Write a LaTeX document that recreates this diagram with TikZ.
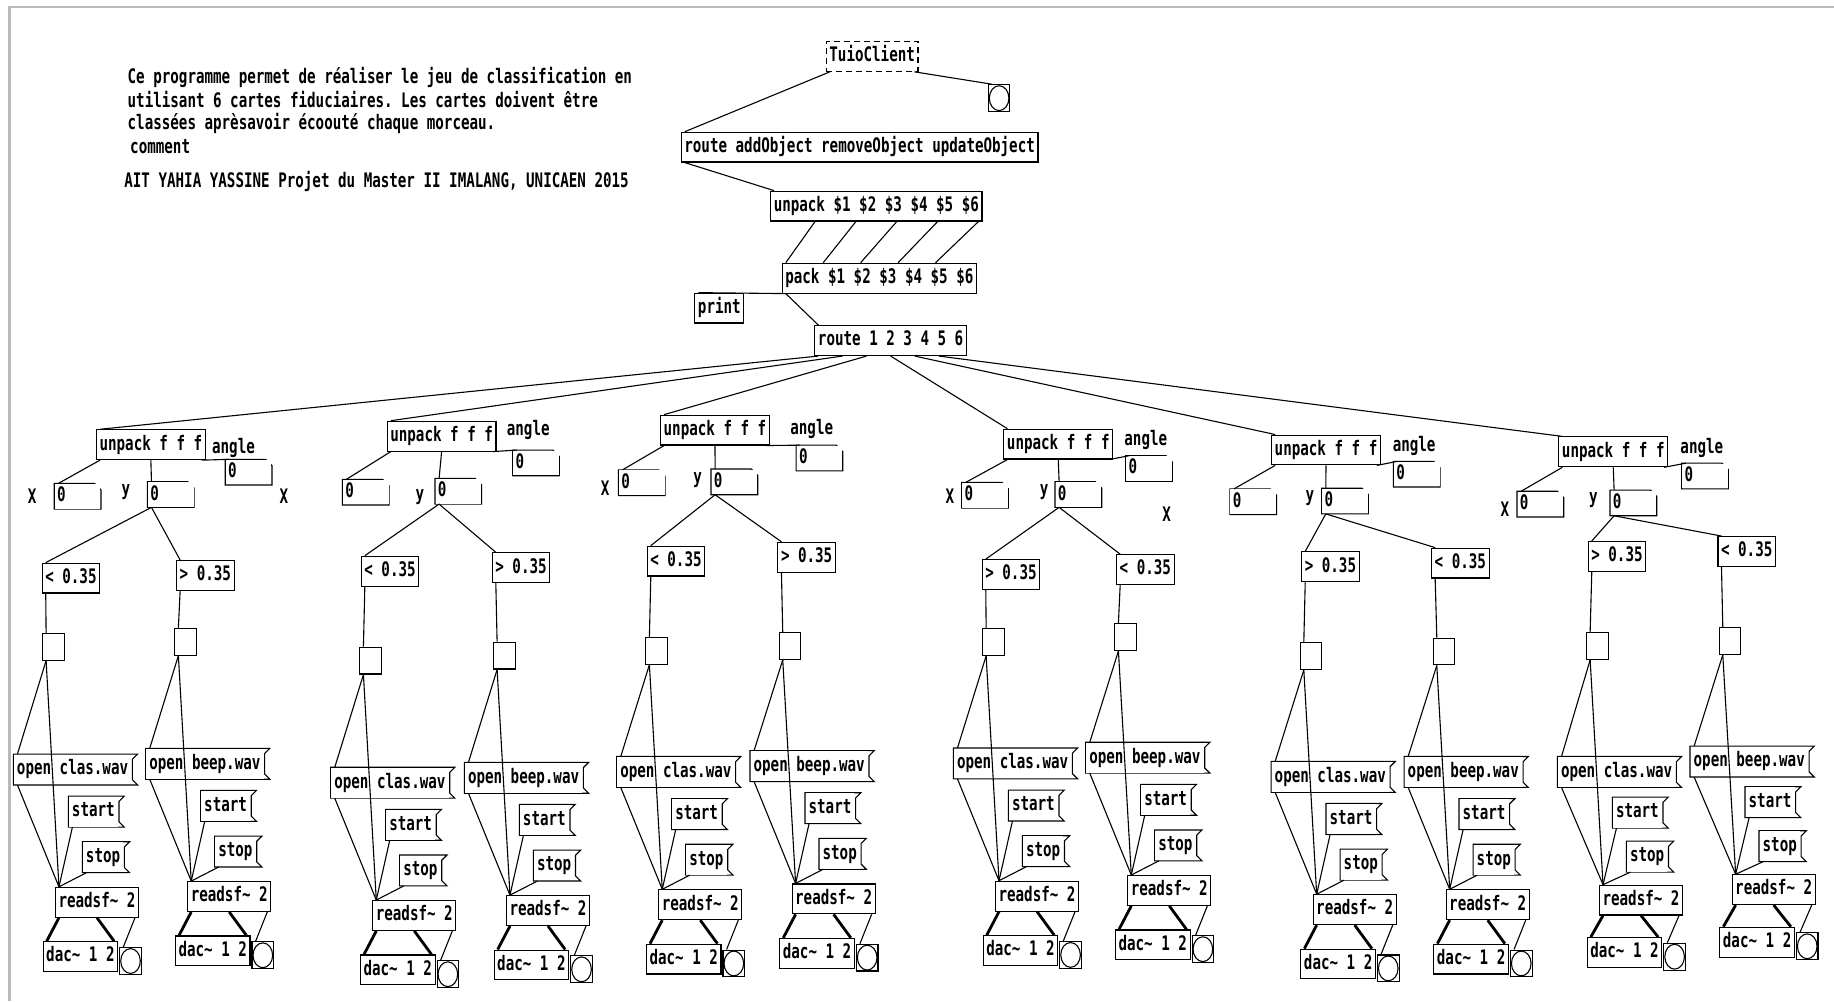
\documentclass[tikz,border=0pt]{standalone}
\usepackage{fontspec}
\newfontfamily\pdfont[FakeStretch=0.71]{DejaVu Sans Mono}
\usepackage{tikz}
\usetikzlibrary{calc}
\frenchspacing

% inlets / outlets as small dark bars along one edge
\newcommand\pdportrow[3]{%
  \ifnum#1>0
    \foreach \k in {1,...,#1}{%
      \ifnum#1=1 \def\pfrac{0}\else\pgfmathsetmacro\pfrac{(\k-1)/(#1-1)}\fi
      \fill ($([xshift=2.05pt]path picture bounding box.#2 west)!\pfrac!([xshift=-2.05pt]path picture bounding box.#2 east)$)
        ++(-3.5,0) rectangle ++(7,#3*3.5);
    }%
  \fi}

\tikzset{
  ports/.style 2 args={path picture={\pdportrow{#1}{north}{1}\pdportrow{#2}{south}{-1}}},
  pdbox/.style={font=\pdfont\bfseries, anchor=north west, inner xsep=1.55pt, inner ysep=2.6pt,
    text height=7.5pt, text depth=2.2pt, line width=0.55pt, fill=white},
  obj/.style 2 args={pdbox, draw, ports={#1}{#2}},
  msg/.style={pdbox, ports={1}{1}, append after command={\pgfextra{
    \draw[line width=0.55pt] (\tikzlastnode.north west) -- ([xshift=2.9pt]\tikzlastnode.north east)
      -- ([xshift=0.3pt,yshift=-2.6pt]\tikzlastnode.north east)
      -- ([xshift=0.3pt,yshift=2.6pt]\tikzlastnode.south east)
      -- ([xshift=2.9pt]\tikzlastnode.south east) -- (\tikzlastnode.south west) -- cycle;}}},
  numbox/.style={pdbox, inner xsep=1.2pt, inner ysep=1.5pt, text height=7.4pt, text depth=1.9pt,
    text width=20.4pt, align=left, ports={1}{1}, append after command={\pgfextra{
    \draw[line width=0.55pt] (\tikzlastnode.north west) -- ([xshift=-3.2pt]\tikzlastnode.north east)
      -- ([yshift=-3.2pt]\tikzlastnode.north east) -- (\tikzlastnode.south east)
      -- (\tikzlastnode.south west) -- cycle;}}},
  bangbox/.style={anchor=north west, draw, fill=white, line width=0.55pt, inner sep=0pt,
    minimum width=10.8pt, minimum height=13.4pt, ports={1}{1}},
  cbang/.style={bangbox, path picture={\pdportrow{1}{north}{1}\pdportrow{1}{south}{-1}
    \draw[line width=0.55pt] (path picture bounding box.center) ellipse (4.9pt and 6.2pt);}},
  lbl/.style={font=\pdfont\bfseries, inner sep=0pt},
  wire/.style={line width=0.55pt},
  sig/.style={line width=1.4pt}
}

\begin{document}
\begin{tikzpicture}[x=0.5848pt,y=-0.5848pt]
  \useasboundingbox (0,0) rectangle (1568,856);
  \draw[gray!55,line width=1.2pt] (8,856) -- (8,6) -- (1568,6);

  % comments
  \node[lbl,anchor=west] (txt1) at (108.8,66) {Ce programme permet de réaliser le jeu de classification en};
  \node[lbl,anchor=west] (txt2) at (108.8,85.5) {utilisant 6 cartes fiduciaires. Les cartes doivent être};
  \node[lbl,anchor=west] (txt3) at (108.8,105.4) {classées aprèsavoir écoouté chaque morceau.};
  \node[lbl,anchor=west] (txt4) at (111,125.4) {comment};
  \node[lbl,anchor=west] (txt5) at (106,155.3) {AIT YAHIA YASSINE Projet du Master II IMALANG, UNICAEN 2015};

  % head of the patch
  \node[obj={0}{2},dash pattern=on 3pt off 2pt] (tuio) at (706,35) {TuioClient};
  \node[cbang] (tbang) at (844.5,72) {};
  \node[obj={1}{4}] (rao) at (582,112.6) {route addObject removeObject updateObject};
  \node[obj={1}{6}] (unp) at (658.4,163) {unpack \$1 \$2 \$3 \$4 \$5 \$6};
  \node[obj={6}{1}] (pk) at (668.3,224.6) {pack \$1 \$2 \$3 \$4 \$5 \$6};
  \node[obj={1}{0}] (prt) at (593.6,250.2) {print};
  \node[obj={1}{7}] (rt) at (696.2,278) {route 1 2 3 4 5 6};

  \draw[wire] ([xshift=2.05pt]tuio.south west) -- ([xshift=2.05pt]rao.north west);
  \draw[wire] ([xshift=-2.05pt]tuio.south east) -- ([xshift=2.05pt]tbang.north west);
  \draw[wire] ([xshift=2.05pt]rao.south west) -- ([xshift=2.05pt]unp.north west);
  \foreach \k in {1,...,5}{
    \pgfmathsetmacro\fa{\k/5}\pgfmathsetmacro\fb{(\k-1)/5}
    \draw[wire] ($([xshift=2.05pt]unp.south west)!\fa!([xshift=-2.05pt]unp.south east)$)
      -- ($([xshift=2.05pt]pk.north west)!\fb!([xshift=-2.05pt]pk.north east)$);
  }
  \draw[wire] ([xshift=2.05pt]pk.south west) -- ([xshift=2.05pt]prt.north west);
  \draw[wire] ([xshift=2.05pt]pk.south west) -- ([xshift=2.05pt]rt.north west);

  % one unpack per card
  \foreach \c/\ux/\uy/\ax/\ay/\anx/\any/\xx/\xy/\ylx/\yly/\yx/\yy in {
      1/82/367/181/383.3/192.6/392.7/46.4/413.3/107.7/420.4/126/411.8,
      2/330.6/359.7/433/367.6/438.3/384.8/292.7/409.8/359/424.6/371.9/409,
      3/564.3/354.5/675.4/366.5/680.6/380.6/528.7/401.7/596.5/410.8/607.9/401,
      4/857.8/366.5/961/376.4/962.4/389.5/822.2/412.4/892.6/420.6/902/411.8,
      5/1086.7/371.5/1190.4/381.3/1191.3/394.4/1051.5/418/1120/425.5/1130/417.4,
      6/1332.3/373.1/1436.4/383/1437.8/396/1297/420/1362.3/427.8/1376.5/419}{
    \node[obj={1}{3}] (unp\c) at (\ux,\uy) {unpack f f f};
    \node[lbl,anchor=west] (ang\c) at (\ax,\ay) {angle};
    \node[numbox] (na\c) at (\anx,\any) {0};
    \node[numbox] (nx\c) at (\xx,\xy) {0};
    \node[lbl] (ly\c) at (\ylx,\yly) {y};
    \node[numbox] (ny\c) at (\yx,\yy) {0};
    \pgfmathsetmacro\rf{(\c-1)/6}
    \draw[wire] ($([xshift=2.05pt]rt.south west)!\rf!([xshift=-2.05pt]rt.south east)$)
      -- ([xshift=2.05pt]unp\c.north west);
    \draw[wire] ([xshift=2.05pt]unp\c.south west) -- ([xshift=2.05pt]nx\c.north west);
    \draw[wire] (unp\c.south) -- ([xshift=2.05pt]ny\c.north west);
    \draw[wire] ([xshift=-2.05pt]unp\c.south east) -- ([xshift=2.05pt]na\c.north west);
  }
  \foreach \lx/\ly [count=\i] in {27.5/424.6,242.8/424.6,517.3/417.4,812.2/424.6,997.5/439.6,1286.7/435.4}
    \node[lbl] (lx\i) at (\lx,\ly) {X};

  % two players per card
  \foreach \c/\s/\cx/\cy/\by/\ox/\oy/\st/\cmp/\wav in {
      1/a/35.6/481/541/11.4/644.7/1/</clas,
      1/b/150.5/478.8/536.7/124.5/639.8/1/>/beep,
      2/a/308.4/475.1/552.9/282.7/656/1/</clas,
      2/b/420.4/472.2/548.6/397/651.8/1/>/beep,
      3/a/552.9/466.5/544.5/527.2/646.8/1/</clas,
      3/b/664.6/463.2/540.3/641.2/641.8/1/>/beep,
      4/a/839.3/478/536.9/815.1/639.5/1/>/clas,
      4/b/954.2/473.8/532.7/928.2/634.6/1/</beep,
      5/a/1112.4/471.4/549/1086.7/651/1/>/clas,
      5/b/1223.5/468.2/545.1/1200.4/646.8/1/</beep,
      6/a/1357.4/462.5/540.3/1331.5/646.8/0.965/>/clas,
      6/b/1468.3/458.3/536/1444.9/637.9/0.965/</beep}{
    \node[obj={2}{1}] (cmp\c\s) at (\cx,\cy) {\cmp{} 0.35};
    \node[bangbox] (bg\c\s) at (\ox+24.5,\by) {};
    \node[msg] (op\c\s) at (\ox,\oy) {open \wav.wav};
    \node[msg] (sta\c\s) at (\ox+47,\oy+36*\st) {start};
    \node[msg] (sto\c\s) at (\ox+59,\oy+75*\st) {stop};
    \node[obj={1}{3}] (rd\c\s) at (\ox+35.5,\oy+113.5*\st) {readsf\textasciitilde{} 2};
    \node[obj={2}{0}] (dac\c\s) at (\ox+25,\oy+160*\st) {dac\textasciitilde{} 1 2};
    \node[cbang] (dn\c\s) at (\ox+90.5,\oy+165*\st) {};
    \draw[wire] ([xshift=2.05pt]ny\c.south west) -- ([xshift=2.05pt]cmp\c\s.north west);
    \draw[wire] ([xshift=2.05pt]cmp\c\s.south west) -- ([xshift=2.05pt]bg\c\s.north west);
    \draw[wire] ([xshift=2.05pt]bg\c\s.south west) -- ([xshift=2.05pt]op\c\s.north west);
    \draw[wire] ([xshift=2.05pt]bg\c\s.south west) -- ([xshift=2.05pt]rd\c\s.north west);
    \draw[wire] ([xshift=2.05pt]op\c\s.south west) -- ([xshift=2.05pt]rd\c\s.north west);
    \draw[wire] ([xshift=2.05pt]sta\c\s.south west) -- ([xshift=2.05pt]rd\c\s.north west);
    \draw[wire] ([xshift=2.05pt]sto\c\s.south west) -- ([xshift=2.05pt]rd\c\s.north west);
    \draw[sig] ([xshift=2.05pt]rd\c\s.south west) -- ([xshift=2.05pt]dac\c\s.north west);
    \draw[sig] (rd\c\s.south) -- ([xshift=-2.05pt]dac\c\s.north east);
    \draw[wire] ([xshift=-2.05pt]rd\c\s.south east) -- ([xshift=2.05pt]dn\c\s.north west);
  }
\end{tikzpicture}
\end{document}
